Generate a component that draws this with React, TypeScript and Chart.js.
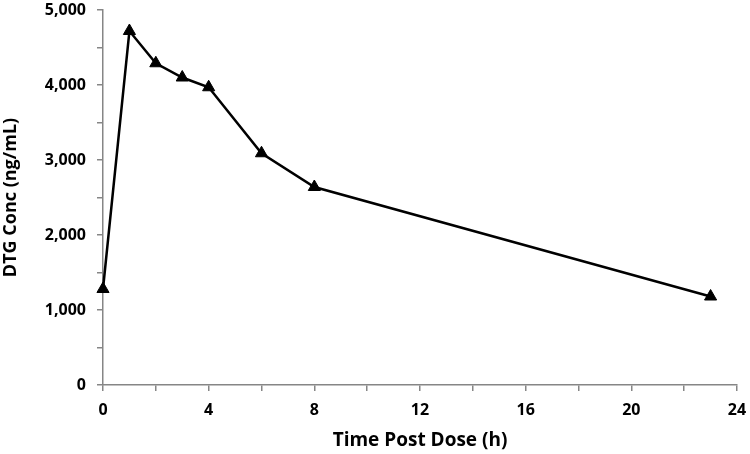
import React, { useEffect, useRef } from "react";
import { Chart, registerables } from "chart.js";

Chart.register(...registerables);

const timeHours = [0, 1, 2, 3, 4, 6, 8, 23];
const dtgConc = [1280, 4720, 4290, 4100, 3970, 3090, 2640, 1180];
const xTickLabelEvery = 4;
const yTickLabelEvery = 1000;

const FONT = "'Open Sans', 'Liberation Sans', sans-serif";

export default function App() {
  const ref = useRef<HTMLCanvasElement | null>(null);
  useEffect(() => {
    document.body.style.margin = "0";
    const ctx = ref.current!;
    const chart = new Chart(ctx, {
      type: "scatter",
      data: {
        datasets: [
          {
            data: timeHours.map((t, i) => ({ x: t, y: dtgConc[i] })),
            showLine: true,
            clip: false,
            borderColor: "#000000",
            backgroundColor: "#000000",
            borderWidth: 2.5,
            pointStyle: "triangle",
            pointRadius: 7,
            pointHoverRadius: 7,
            pointBorderWidth: 1,
          },
        ],
      },
      options: {
        animation: false,
        responsive: false,
        maintainAspectRatio: false,
        layout: { padding: { top: 10, right: 13, left: 0, bottom: 0 } },
        plugins: { legend: { display: false }, tooltip: { enabled: false } },
        scales: {
          x: {
            type: "linear",
            min: 0,
            max: 24,
            afterFit: (s: any) => {
              s.height = 69;
              s.paddingLeft = 0;
              s.paddingRight = 0;
            },
            border: { color: "#868686", width: 1.5 },
            grid: {
              drawOnChartArea: false,
              drawTicks: true,
              tickLength: 6,
              color: "#868686",
              lineWidth: 1.5,
            },
            ticks: {
              stepSize: 2,
              padding: 10,
              color: "#000000",
              maxRotation: 0,
              autoSkip: false,
              font: { family: FONT, size: 16, weight: "bold" },
              callback: (v: any) => (Number(v) % xTickLabelEvery === 0 ? String(v) : ""),
            },
            title: {
              display: true,
              text: "Time Post Dose (h)",
              color: "#000000",
              padding: { top: 0, bottom: 2 },
              font: { family: FONT, size: 19, weight: "bold" },
            },
          },
          y: {
            type: "linear",
            min: 0,
            max: 5000,
            afterFit: (s: any) => {
              s.width = 103;
              s.paddingTop = 0;
              s.paddingBottom = 0;
            },
            border: { color: "#868686", width: 1.5 },
            grid: {
              drawOnChartArea: false,
              drawTicks: true,
              tickLength: 6,
              color: "#868686",
              lineWidth: 1.5,
            },
            ticks: {
              stepSize: 500,
              padding: 11,
              color: "#000000",
              autoSkip: false,
              font: { family: FONT, size: 16, weight: "bold" },
              callback: (v: any) =>
                Number(v) % yTickLabelEvery === 0 ? Number(v).toLocaleString("en-US") : "",
            },
            title: {
              display: true,
              text: "DTG Conc (ng/mL)",
              color: "#000000",
              padding: { top: 0, bottom: 0 },
              font: { family: FONT, size: 18, weight: "bold" },
            },
          },
        },
      },
    } as any);
    return () => chart.destroy();
  }, []);
  return (
    <div style={{ width: 750, height: 454, background: "#ffffff" }}>
      <canvas ref={ref} width={750} height={454} style={{ display: "block" }} />
    </div>
  );
}
